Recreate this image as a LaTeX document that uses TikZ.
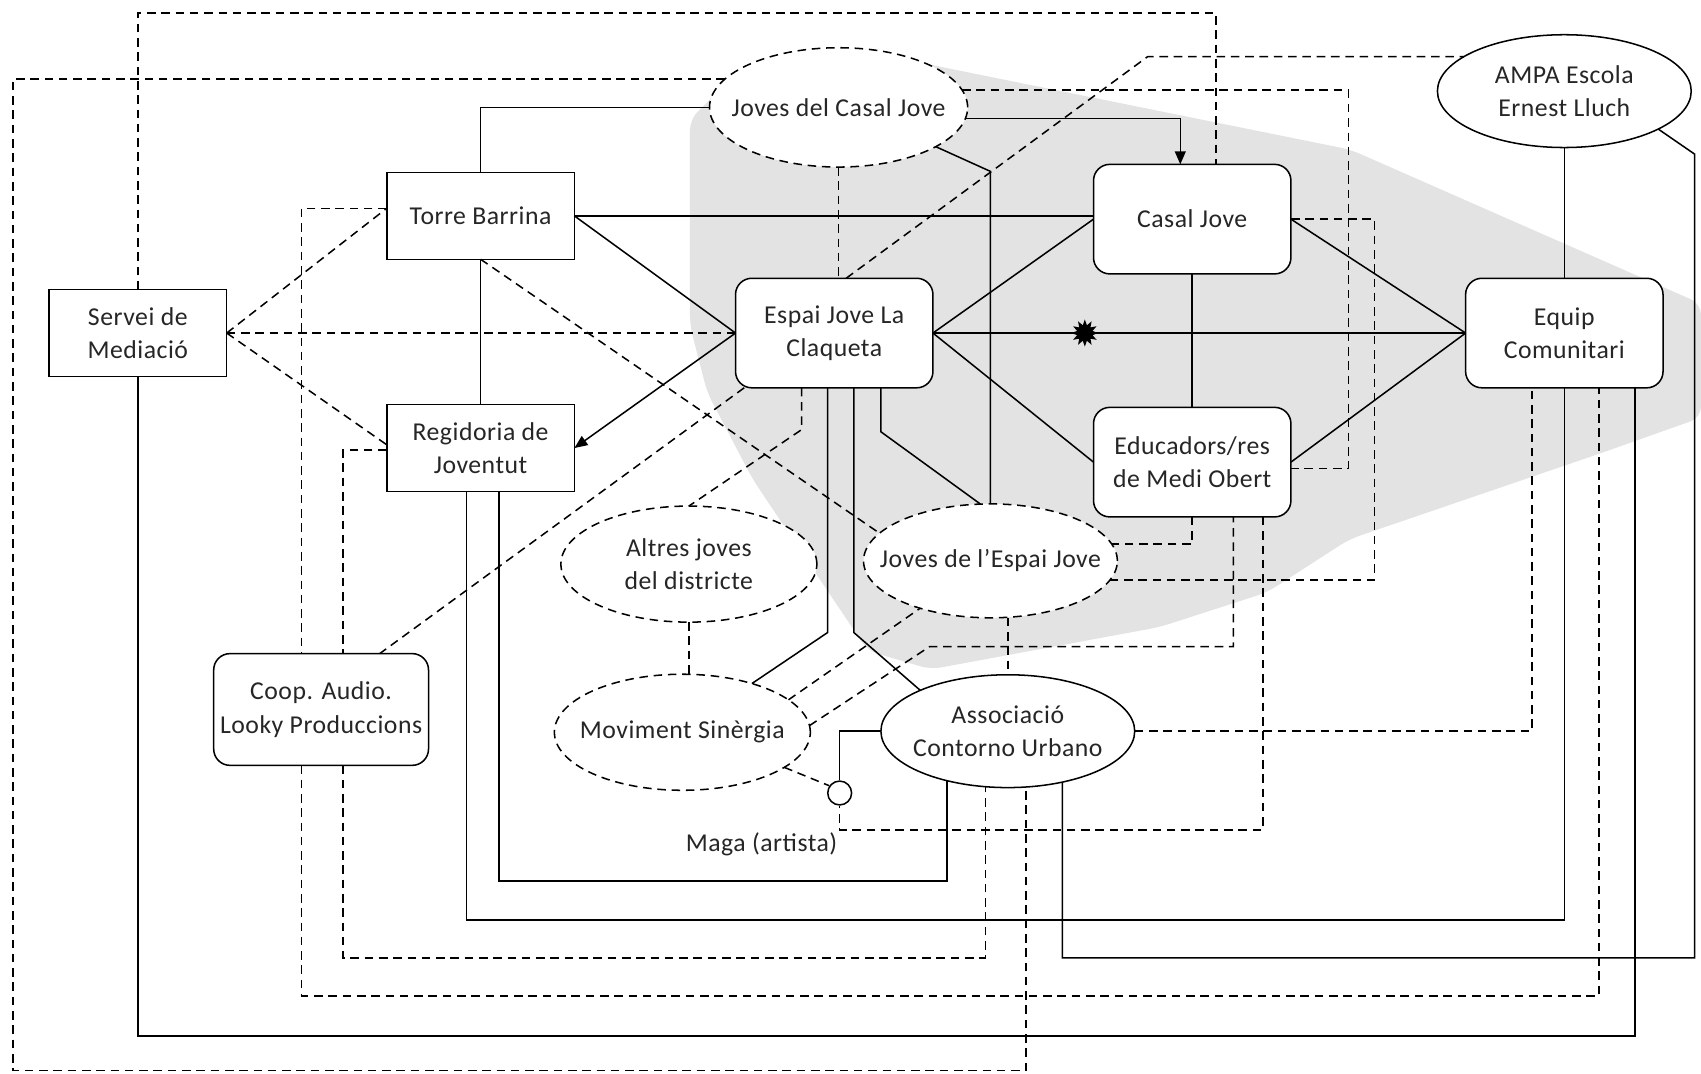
\documentclass[tikz,border=0pt]{standalone}
\usepackage{fontspec}
\setmainfont{Carlito}[LetterSpace=2]
\usetikzlibrary{shapes.geometric,arrows.meta,backgrounds}

\tikzset{
    lnk/.style={line width=0.8pt},
    dlnk/.style={line width=0.8pt, dash pattern=on 4.5pt off 3pt},
    sqbox/.style={draw, line width=0.8pt, fill=white, minimum width=3.46cm, minimum height=1.6cm, align=center, outer sep=0pt},
    rbox/.style={sqbox, rounded corners=0.3cm, minimum width=3.64cm, minimum height=2.02cm},
    oval/.style={draw, ellipse, line width=0.8pt, fill=white, minimum width=4.68cm, minimum height=2.08cm, inner xsep=-0.4cm, inner ysep=0pt, outer sep=0pt, align=center},
    doval/.style={oval, dash pattern=on 4.5pt off 3pt},
    tip/.style={-{Triangle[length=0.24cm, width=0.2cm]}}
}

\begin{document}
\begin{tikzpicture}[x=0.02cm, y=-0.02cm, font=\fontsize{13.5}{17.5}\selectfont, text=black!85]
    \useasboundingbox (0,0) rectangle (1568,990);

    \node[sqbox, minimum width=3.28cm] (serv) at (127,307) {Servei de\\Mediació};
    \node[sqbox] (torre) at (443,199) {Torre Barrina};
    \node[sqbox] (regi) at (443,413) {Regidoria de\\Joventut};
    \node[rbox] (espai) at (769,307) {Espai Jove La\\Claqueta};
    \node[rbox] (casal) at (1099,202) {Casal Jove};
    \node[rbox] (educ) at (1099,426) {Educadors/res\\de Medi Obert};
    \node[rbox] (equip) at (1442,307) {Equip\\Comunitari};
    \node[rbox, minimum width=3.84cm, minimum height=2.06cm] (coop) at (296,654) {Coop. Audio.\\Looky Produccions};

    \node[oval] (ampa) at (1442,84) {AMPA Escola\\Ernest Lluch};
    \node[doval, minimum width=4.76cm, minimum height=2.2cm] (jcj) at (773,99) {Joves del Casal Jove};
    \node[doval, minimum width=4.72cm, minimum height=2.14cm] (alt) at (635,520) {Altres joves\\del districte};
    \node[doval, minimum height=2.1cm] (jej) at (913,517) {Joves de l’Espai Jove};
    \node[doval, minimum width=4.72cm, minimum height=2.14cm] (mov) at (629,675) {Moviment Sinèrgia};
    \node[oval] (aso) at (929,674) {Associació\\Contorno Urbano};

    \node[draw, circle, line width=0.8pt, fill=white, minimum size=0.44cm, inner sep=0pt] (maga) at (774,731) {};
    \node (magalbl) at (702,778) {Maga (artista)};

    \begin{scope}[on background layer]
        \fill[black!11, rounded corners=0.2cm] (636,110) -- (680,66) -- (790,46) -- (1245,138) -- (1568,280) -- (1568,385)
            -- (1475,418) -- (1244,497) -- (1168,546) -- (1069,578) -- (858,617) -- (800,600) -- (694,442)
            -- (652,362) -- (636,300) -- cycle;
    \end{scope}

    \draw[lnk] (torre.north) |- (jcj.west);
    \draw[lnk] (torre.east) -- (torre.east -| casal.west);
    \draw[lnk] (torre.east) -- (espai.west);
    \draw[lnk] (torre.south) -- (regi.north);
    \draw[lnk, tip] (espai.west) -- (regi.east);
    \draw[lnk] (espai.east) -- (casal.west);
    \draw[lnk] (espai.east) -- (equip.west);
    \draw[lnk] (espai.east) -- (educ.west);
    \draw[lnk] (casal.south) -- (educ.north);
    \draw[lnk] (casal.east) -- (equip.west);
    \draw[lnk] (educ.east) -- (equip.west);
    \draw[lnk, tip] (jcj.-5) -| (casal.north -| 1088,0);
    \draw[lnk] (jcj.-22) -- (jej.north |- 0,158) -- (jej.north);
    \draw[lnk] (ampa.south) -- (equip.north);
    \draw[lnk] (ampa.-22) -- (1562,142) -- (1562,883) -| (aso.-43);
    \draw[lnk] (regi.south -| 430,0) -- (430,848) -| (equip.south -| 1442,0);
    \draw[lnk] (serv.south) -- (127,955) -| (equip.south -| 1507,0);
    \draw[lnk] (regi.south -| 460,0) -- (460,812) -| (aso.-141);
    \draw[lnk] (espai.south -| 763,0) -- (763,583) -- (mov.35);
    \draw[lnk] (espai.south -| 787,0) -- (787,583) -- (aso.155);
    \draw[lnk] (espai.south -| 812,0) -- (812,398) -- (jej.100);
    \draw[lnk] (aso.west) -| (maga.north);

    \node[star, star points=12, star point ratio=1.7, minimum size=0.5cm, inner sep=0pt, fill=black] (burst) at (1000,307) {};

    \draw[dlnk] (serv.north) -- (127,12) -| (casal.north -| 1121,0);
    \draw[dlnk] (jcj.166) -| (12,987) -| (aso.-72);
    \draw[dlnk] (coop.south -| 316,0) -- (316,883) -| (aso.-112);
    \draw[dlnk] (espai.north -| 780,0) -- (ampa.161 -| 1058,0) -- (ampa.161);
    \draw[dlnk] (jcj.8) -| (1243,432) -- (educ.east |- 0,432);
    \draw[dlnk] (casal.east) -| (jej.-9 -| 1267,0) -- (jej.-9);
    \draw[dlnk] (jcj.south) -- (jcj.south |- espai.north);
    \draw[dlnk] (serv.east) -- (torre.west |- 0,192);
    \draw[dlnk] (serv.east) -- (espai.west);
    \draw[dlnk] (serv.east) -- (regi.west |- 0,410);
    \draw[dlnk] (torre.south) -- (jej.166);
    \draw[dlnk] (espai.south -| 686,0) -- (coop.north -| 350,0);
    \draw[dlnk] (espai.south -| 739,0) -- (739,396) -- (alt.north);
    \draw[dlnk] (mov.17) -- (jej.214);
    \draw[dlnk] (mov.3) -- (857,596) -| (educ.south -| 1137,0);
    \draw[dlnk] (alt.south) -- (alt.south |- mov.north);
    \draw[dlnk] (aso.north |- jej.south) -- (aso.north);
    \draw[dlnk] (educ.south) |- (jej.8);
    \draw[dlnk] (educ.south -| 1164,0) -- (1164,765) -| (maga.south);
    \draw[dlnk] (mov.-19) -- (maga.145);
    \draw[dlnk] (torre.west |- 0,192) -| (coop.north -| 278,0);
    \draw[dlnk] (regi.west |- 0,415) -| (coop.north -| 316,0);
    \draw[dlnk] (coop.south -| 278,0) -- (278,918) -| (equip.south -| 1474,0);
    \draw[dlnk] (aso.east) -| (equip.south -| 1412,0);
\end{tikzpicture}
\end{document}
